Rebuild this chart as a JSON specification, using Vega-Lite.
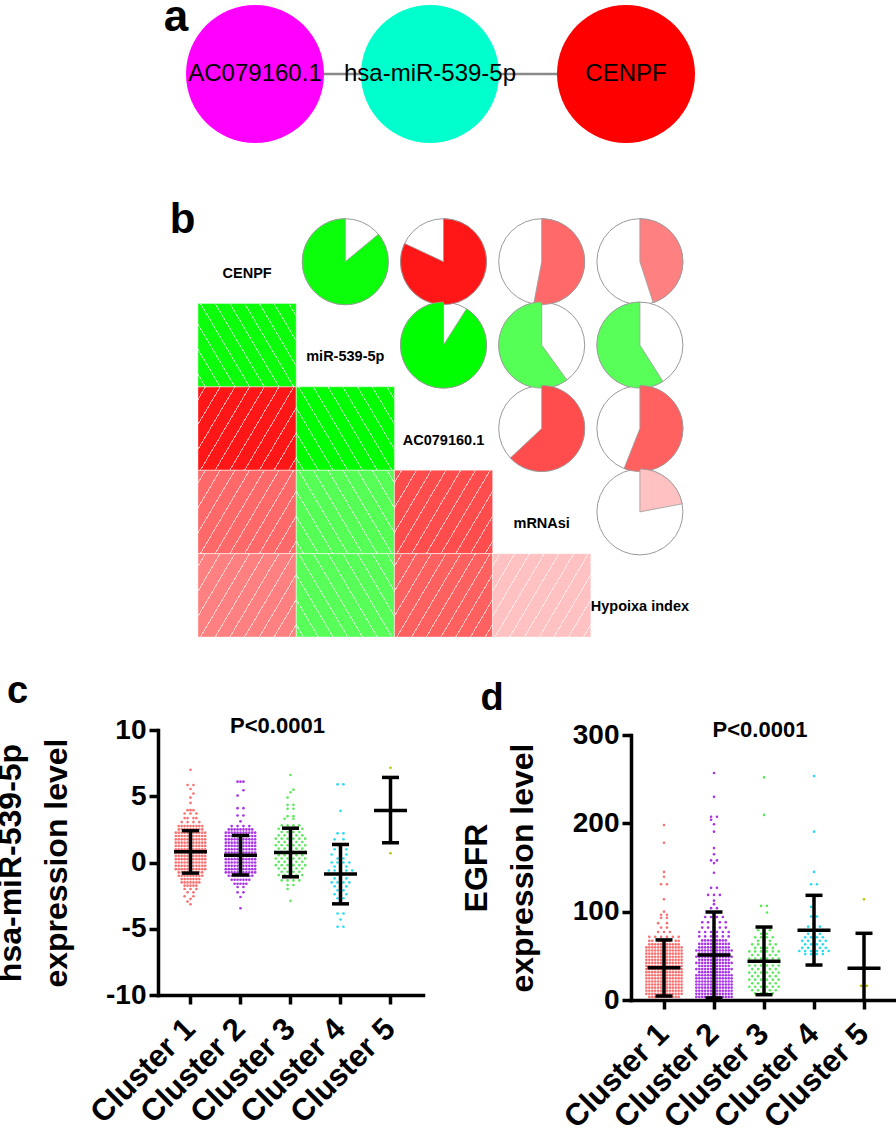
{
"$schema":"https://vega.github.io/schema/vega-lite/v6.json",
"padding":{"left":-6,"top":0,"right":0,"bottom":0},
"background":"white",
"bounds":"flush",
"spacing":0,
"datasets":{
"net":[{"node":"AC079160.1","x":0,"y":0},{"node":"hsa-miR-539-5p","x":1,"y":0},{"node":"CENPF","x":2.12,"y":0}],
"edges":[{"source":"AC079160.1","target":"hsa-miR-539-5p","x1":0,"x2":1,"y":0},{"source":"hsa-miR-539-5p","target":"CENPF","x1":1,"x2":2.12,"y":0}],
"vars":[{"v":"CENPF"},{"v":"miR-539-5p"},{"v":"AC079160.1"},{"v":"mRNAsi"},{"v":"Hypoixa index"}],
"corr":[
{"a":"CENPF","b":"miR-539-5p","r":-0.86},
{"a":"CENPF","b":"AC079160.1","r":0.82},
{"a":"CENPF","b":"mRNAsi","r":0.53},
{"a":"CENPF","b":"Hypoixa index","r":0.45},
{"a":"miR-539-5p","b":"AC079160.1","r":-0.91},
{"a":"miR-539-5p","b":"mRNAsi","r":-0.6},
{"a":"miR-539-5p","b":"Hypoixa index","r":-0.59},
{"a":"AC079160.1","b":"mRNAsi","r":0.63},
{"a":"AC079160.1","b":"Hypoixa index","r":0.56},
{"a":"mRNAsi","b":"Hypoixa index","r":0.22}],
"csum":[{"c":"Cluster 1","m":0.82,"lo":-0.8,"hi":2.4},{"c":"Cluster 2","m":0.55,"lo":-0.94,"hi":2.04},{"c":"Cluster 3","m":0.75,"lo":-1.08,"hi":2.59},{"c":"Cluster 4","m":-0.87,"lo":-3.12,"hi":1.36},{"c":"Cluster 5","m":3.93,"lo":1.49,"hi":6.42}],
"dsum":[{"c":"Cluster 1","m":36.6,"lo":4.5,"hi":68},{"c":"Cluster 2","m":51,"lo":2.3,"hi":99.6},{"c":"Cluster 3","m":44,"lo":6,"hi":82.6},{"c":"Cluster 4","m":79,"lo":39.6,"hi":118.5},{"c":"Cluster 5","m":36,"lo":-3,"hi":75.5}],
"cpts":[
{"c":"Cluster 1","v":7.0,"k":[0]},
{"c":"Cluster 1","v":5.85,"k":[-1,1]},
{"c":"Cluster 1","v":5.55,"k":[0]},
{"c":"Cluster 1","v":5.2,"k":[1]},
{"c":"Cluster 1","v":4.9,"k":[0]},
{"c":"Cluster 1","v":4.5,"k":[0]},
{"c":"Cluster 1","v":3.95,"k":[-1,0,1]},
{"c":"Cluster 1","v":3.7,"k":[-2,0,2]},
{"c":"Cluster 1","v":3.35,"k":[-2,-1,1,2]},
{"c":"Cluster 1","v":3.05,"k":[-3,-1,1,3]},
{"c":"Cluster 1","v":2.75,"k":[-4,-3,-2,-1,0,1,2,3,4]},
{"c":"Cluster 1","v":2.5,"k":[-4,-3,-2,-1,0,1,2,3,4]},
{"c":"Cluster 1","v":2.25,"k":[-5,-4,-3,-2,-1,0,1,2,3,4,5]},
{"c":"Cluster 1","v":2.0,"k":[-5,-4,-3,-2,-1,0,1,2,3,4,5]},
{"c":"Cluster 1","v":1.75,"k":[-5,-4,-3,-2,-1,0,1,2,3,4,5]},
{"c":"Cluster 1","v":1.5,"k":[-5,-4,-3,-2,-1,0,1,2,3,4,5]},
{"c":"Cluster 1","v":1.25,"k":[-5,-4,-3,-2,-1,0,1,2,3,4,5]},
{"c":"Cluster 1","v":1.0,"k":[-5,-4,-3,-2,-1,0,1,2,3,4,5]},
{"c":"Cluster 1","v":0.75,"k":[-5,-4,-3,-2,-1,0,1,2,3,4,5]},
{"c":"Cluster 1","v":0.5,"k":[-5,-4,-3,-2,-1,0,1,2,3,4,5]},
{"c":"Cluster 1","v":0.25,"k":[-5,-4,-3,-2,-1,0,1,2,3,4,5]},
{"c":"Cluster 1","v":0.0,"k":[-5,-4,-3,-2,-1,0,1,2,3,4,5]},
{"c":"Cluster 1","v":-0.25,"k":[-5,-4,-3,-2,-1,0,1,2,3,4,5]},
{"c":"Cluster 1","v":-0.5,"k":[-5,-4,-3,-2,-1,0,1,2,3,4,5]},
{"c":"Cluster 1","v":-0.75,"k":[-4,-3,-2,-1,0,1,2,3,4]},
{"c":"Cluster 1","v":-1.0,"k":[-4,-3,-2,-1,0,1,2,3,4]},
{"c":"Cluster 1","v":-1.25,"k":[-3,-2,-1,0,1,2,3]},
{"c":"Cluster 1","v":-1.5,"k":[-3,-2,-1,0,1,2,3]},
{"c":"Cluster 1","v":-1.75,"k":[-2,-1,0,1,2]},
{"c":"Cluster 1","v":-2.0,"k":[-2,0,2]},
{"c":"Cluster 1","v":-2.25,"k":[-1,1]},
{"c":"Cluster 1","v":-2.55,"k":[-2,1]},
{"c":"Cluster 1","v":-2.75,"k":[0]},
{"c":"Cluster 1","v":-2.95,"k":[-1]},
{"c":"Cluster 1","v":-3.15,"k":[0]},
{"c":"Cluster 2","v":6.1,"k":[-1,0,1]},
{"c":"Cluster 2","v":5.45,"k":[1]},
{"c":"Cluster 2","v":5.05,"k":[-1]},
{"c":"Cluster 2","v":4.1,"k":[-1,1]},
{"c":"Cluster 2","v":3.55,"k":[-1,1]},
{"c":"Cluster 2","v":3.1,"k":[0]},
{"c":"Cluster 2","v":2.75,"k":[-3,-1,1,3]},
{"c":"Cluster 2","v":2.5,"k":[-4,-3,-2,-1,0,1,2,3,4]},
{"c":"Cluster 2","v":2.25,"k":[-5,-4,-3,-2,-1,0,1,2,3,4,5]},
{"c":"Cluster 2","v":2.0,"k":[-5,-4,-3,-2,-1,0,1,2,3,4,5]},
{"c":"Cluster 2","v":1.75,"k":[-5,-4,-3,-2,-1,0,1,2,3,4,5]},
{"c":"Cluster 2","v":1.5,"k":[-5,-4,-3,-2,-1,0,1,2,3,4,5]},
{"c":"Cluster 2","v":1.25,"k":[-5,-4,-3,-2,-1,0,1,2,3,4,5]},
{"c":"Cluster 2","v":1.0,"k":[-5,-4,-3,-2,-1,0,1,2,3,4,5]},
{"c":"Cluster 2","v":0.75,"k":[-5,-4,-3,-2,-1,0,1,2,3,4,5]},
{"c":"Cluster 2","v":0.5,"k":[-5,-4,-3,-2,-1,0,1,2,3,4,5]},
{"c":"Cluster 2","v":0.25,"k":[-5,-4,-3,-2,-1,0,1,2,3,4,5]},
{"c":"Cluster 2","v":0.0,"k":[-5,-4,-3,-2,-1,0,1,2,3,4,5]},
{"c":"Cluster 2","v":-0.25,"k":[-5,-4,-3,-2,-1,0,1,2,3,4,5]},
{"c":"Cluster 2","v":-0.5,"k":[-5,-4,-3,-2,-1,0,1,2,3,4,5]},
{"c":"Cluster 2","v":-0.75,"k":[-5,-4,-3,-2,-1,0,1,2,3,4,5]},
{"c":"Cluster 2","v":-1.0,"k":[-4,-3,-2,-1,0,1,2,3,4]},
{"c":"Cluster 2","v":-1.3,"k":[-3,-2,-1,0,1,2,3]},
{"c":"Cluster 2","v":-1.6,"k":[-2,-1,0,1,2]},
{"c":"Cluster 2","v":-1.85,"k":[-1,1]},
{"c":"Cluster 2","v":-2.25,"k":[-1,1]},
{"c":"Cluster 2","v":-2.6,"k":[0]},
{"c":"Cluster 2","v":-3.45,"k":[0]},
{"c":"Cluster 3","v":6.6,"k":[0]},
{"c":"Cluster 3","v":5.5,"k":[1]},
{"c":"Cluster 3","v":5.3,"k":[0]},
{"c":"Cluster 3","v":4.9,"k":[-1]},
{"c":"Cluster 3","v":4.35,"k":[-1,1]},
{"c":"Cluster 3","v":4.05,"k":[-1,1]},
{"c":"Cluster 3","v":3.5,"k":[-1,1]},
{"c":"Cluster 3","v":3.3,"k":[-2,1]},
{"c":"Cluster 3","v":2.8,"k":[-3,-1,1,3]},
{"c":"Cluster 3","v":2.55,"k":[-4,-2,2,4]},
{"c":"Cluster 3","v":2.3,"k":[-3,-1,1,3]},
{"c":"Cluster 3","v":2.05,"k":[-4,-2,0,2,4]},
{"c":"Cluster 3","v":1.8,"k":[-5,-3,-1,1,3,5]},
{"c":"Cluster 3","v":1.55,"k":[-4,-2,0,2,4]},
{"c":"Cluster 3","v":1.3,"k":[-5,-3,-1,1,3,5]},
{"c":"Cluster 3","v":1.05,"k":[-4,-2,0,2,4]},
{"c":"Cluster 3","v":0.8,"k":[-5,-3,-1,1,3,5]},
{"c":"Cluster 3","v":0.55,"k":[-4,-2,0,2,4]},
{"c":"Cluster 3","v":0.3,"k":[-5,-3,-1,1,3,5]},
{"c":"Cluster 3","v":0.05,"k":[-4,-2,0,2,4]},
{"c":"Cluster 3","v":-0.2,"k":[-5,-3,-1,1,3,5]},
{"c":"Cluster 3","v":-0.45,"k":[-4,-2,0,2,4]},
{"c":"Cluster 3","v":-0.7,"k":[-3,-1,1,3]},
{"c":"Cluster 3","v":-0.95,"k":[-4,-2,2,4]},
{"c":"Cluster 3","v":-1.35,"k":[-3,-1,1,3]},
{"c":"Cluster 3","v":-1.7,"k":[-1,1]},
{"c":"Cluster 3","v":-2.0,"k":[-1]},
{"c":"Cluster 3","v":-2.9,"k":[0]},
{"c":"Cluster 4","v":5.9,"k":[-1,1]},
{"c":"Cluster 4","v":3.9,"k":[0]},
{"c":"Cluster 4","v":2.2,"k":[-1,1]},
{"c":"Cluster 4","v":1.75,"k":[-2,1]},
{"c":"Cluster 4","v":1.3,"k":[-1]},
{"c":"Cluster 4","v":1.0,"k":[-2,2]},
{"c":"Cluster 4","v":0.6,"k":[-3,0,2]},
{"c":"Cluster 4","v":0.3,"k":[-1,1]},
{"c":"Cluster 4","v":0.0,"k":[-3,-1,1,3]},
{"c":"Cluster 4","v":-0.3,"k":[-2,0,2]},
{"c":"Cluster 4","v":-0.6,"k":[-4,-2,2,4]},
{"c":"Cluster 4","v":-0.9,"k":[-3,-1,1,3]},
{"c":"Cluster 4","v":-1.2,"k":[-2,0,2]},
{"c":"Cluster 4","v":-1.5,"k":[-3,-1,1,3]},
{"c":"Cluster 4","v":-1.8,"k":[-2,2]},
{"c":"Cluster 4","v":-2.1,"k":[-1,1]},
{"c":"Cluster 4","v":-2.4,"k":[-2,0,2]},
{"c":"Cluster 4","v":-2.7,"k":[-1,1]},
{"c":"Cluster 4","v":-3.0,"k":[0]},
{"c":"Cluster 4","v":-3.85,"k":[-1,1]},
{"c":"Cluster 4","v":-4.3,"k":[0]},
{"c":"Cluster 4","v":-4.85,"k":[-1,1]},
{"c":"Cluster 5","v":7.15,"k":[0]},
{"c":"Cluster 5","v":6.4,"k":[0]},
{"c":"Cluster 5","v":4.2,"k":[0]},
{"c":"Cluster 5","v":3.35,"k":[0]},
{"c":"Cluster 5","v":2.2,"k":[0]},
{"c":"Cluster 5","v":0.7,"k":[0]}],
"dpts":[
{"c":"Cluster 1","v":198,"k":[0]},
{"c":"Cluster 1","v":178,"k":[0]},
{"c":"Cluster 1","v":145,"k":[0]},
{"c":"Cluster 1","v":139.5,"k":[0]},
{"c":"Cluster 1","v":131,"k":[-1,1]},
{"c":"Cluster 1","v":114,"k":[0]},
{"c":"Cluster 1","v":100,"k":[0]},
{"c":"Cluster 1","v":96.5,"k":[-1,1]},
{"c":"Cluster 1","v":93,"k":[-1,1]},
{"c":"Cluster 1","v":87,"k":[-2,1]},
{"c":"Cluster 1","v":82,"k":[-1,1]},
{"c":"Cluster 1","v":77,"k":[-2,0,2]},
{"c":"Cluster 1","v":71.5,"k":[-5,-3,-1,1,3,5]},
{"c":"Cluster 1","v":67,"k":[-5,-4,-2,-1,1,2,4,5]},
{"c":"Cluster 1","v":63,"k":[-5,-4,-3,-2,-1,0,1,2,3,4,5]},
{"c":"Cluster 1","v":59.5,"k":[-6,-5,-4,-3,-2,-1,0,1,2,3,4,5,6]},
{"c":"Cluster 1","v":56,"k":[-6,-5,-4,-3,-2,-1,0,1,2,3,4,5,6]},
{"c":"Cluster 1","v":52.5,"k":[-6,-5,-4,-3,-2,-1,0,1,2,3,4,5,6]},
{"c":"Cluster 1","v":49,"k":[-6,-5,-4,-3,-2,-1,0,1,2,3,4,5,6]},
{"c":"Cluster 1","v":45.5,"k":[-6,-5,-4,-3,-2,-1,0,1,2,3,4,5,6]},
{"c":"Cluster 1","v":42,"k":[-6,-5,-4,-3,-2,-1,0,1,2,3,4,5,6]},
{"c":"Cluster 1","v":38.5,"k":[-6,-5,-4,-3,-2,-1,0,1,2,3,4,5,6]},
{"c":"Cluster 1","v":35,"k":[-6,-5,-4,-3,-2,-1,0,1,2,3,4,5,6]},
{"c":"Cluster 1","v":31.5,"k":[-6,-5,-4,-3,-2,-1,0,1,2,3,4,5,6]},
{"c":"Cluster 1","v":28,"k":[-6,-5,-4,-3,-2,-1,0,1,2,3,4,5,6]},
{"c":"Cluster 1","v":24.5,"k":[-6,-5,-4,-3,-2,-1,0,1,2,3,4,5,6]},
{"c":"Cluster 1","v":21,"k":[-6,-5,-4,-3,-2,-1,0,1,2,3,4,5,6]},
{"c":"Cluster 1","v":17.5,"k":[-6,-5,-4,-3,-2,-1,0,1,2,3,4,5,6]},
{"c":"Cluster 1","v":14,"k":[-6,-5,-4,-3,-2,-1,0,1,2,3,4,5,6]},
{"c":"Cluster 1","v":10.5,"k":[-6,-5,-4,-3,-2,-1,0,1,2,3,4,5,6]},
{"c":"Cluster 1","v":7,"k":[-6,-5,-4,-3,-2,-1,0,1,2,3,4,5,6]},
{"c":"Cluster 1","v":3.5,"k":[-5,-4,-3,-2,-1,0,1,2,3,4,5]},
{"c":"Cluster 2","v":257,"k":[0]},
{"c":"Cluster 2","v":230,"k":[0]},
{"c":"Cluster 2","v":207.5,"k":[-1,1]},
{"c":"Cluster 2","v":204,"k":[-1]},
{"c":"Cluster 2","v":199,"k":[0]},
{"c":"Cluster 2","v":190.6,"k":[0]},
{"c":"Cluster 2","v":172,"k":[0]},
{"c":"Cluster 2","v":165,"k":[0]},
{"c":"Cluster 2","v":158,"k":[-1,1]},
{"c":"Cluster 2","v":155,"k":[0]},
{"c":"Cluster 2","v":144,"k":[0]},
{"c":"Cluster 2","v":127,"k":[-1,1]},
{"c":"Cluster 2","v":119,"k":[-2,0,2]},
{"c":"Cluster 2","v":112.5,"k":[0]},
{"c":"Cluster 2","v":108.5,"k":[0]},
{"c":"Cluster 2","v":104,"k":[-1,1]},
{"c":"Cluster 2","v":94,"k":[-3,-1,1,3]},
{"c":"Cluster 2","v":88,"k":[-4,-2,2,4]},
{"c":"Cluster 2","v":82,"k":[-4,-2,0,2,4]},
{"c":"Cluster 2","v":77,"k":[-5,-3,-1,1,3,5]},
{"c":"Cluster 2","v":72,"k":[-5,-3,-1,1,3,5]},
{"c":"Cluster 2","v":67.5,"k":[-4,-3,-2,-1,0,1,2,3,4]},
{"c":"Cluster 2","v":63.5,"k":[-5,-4,-3,-2,-1,0,1,2,3,4,5]},
{"c":"Cluster 2","v":59.5,"k":[-5,-4,-3,-2,-1,0,1,2,3,4,5]},
{"c":"Cluster 2","v":56,"k":[-6,-5,-4,-3,-2,-1,0,1,2,3,4,5,6]},
{"c":"Cluster 2","v":52.5,"k":[-5,-4,-3,-2,-1,0,1,2,3,4,5]},
{"c":"Cluster 2","v":49,"k":[-6,-5,-4,-3,-2,-1,0,1,2,3,4,5,6]},
{"c":"Cluster 2","v":45.5,"k":[-5,-4,-3,-2,-1,0,1,2,3,4,5]},
{"c":"Cluster 2","v":42,"k":[-6,-5,-4,-3,-2,-1,0,1,2,3,4,5,6]},
{"c":"Cluster 2","v":38.5,"k":[-5,-4,-3,-2,-1,0,1,2,3,4,5]},
{"c":"Cluster 2","v":35,"k":[-6,-5,-4,-3,-2,-1,0,1,2,3,4,5,6]},
{"c":"Cluster 2","v":31.5,"k":[-5,-4,-3,-2,-1,0,1,2,3,4,5]},
{"c":"Cluster 2","v":28,"k":[-6,-5,-4,-3,-2,-1,0,1,2,3,4,5,6]},
{"c":"Cluster 2","v":24.5,"k":[-6,-5,-4,-3,-2,-1,0,1,2,3,4,5,6]},
{"c":"Cluster 2","v":21,"k":[-6,-5,-4,-3,-2,-1,0,1,2,3,4,5,6]},
{"c":"Cluster 2","v":17.5,"k":[-6,-5,-4,-3,-2,-1,0,1,2,3,4,5,6]},
{"c":"Cluster 2","v":14,"k":[-6,-5,-4,-3,-2,-1,0,1,2,3,4,5,6]},
{"c":"Cluster 2","v":10.5,"k":[-6,-5,-4,-3,-2,-1,0,1,2,3,4,5,6]},
{"c":"Cluster 2","v":7,"k":[-6,-5,-4,-3,-2,-1,0,1,2,3,4,5,6]},
{"c":"Cluster 2","v":3.5,"k":[-6,-5,-4,-3,-2,-1,0,1,2,3,4,5,6]},
{"c":"Cluster 3","v":252,"k":[0]},
{"c":"Cluster 3","v":209.5,"k":[0]},
{"c":"Cluster 3","v":106.5,"k":[-1,1]},
{"c":"Cluster 3","v":99,"k":[1]},
{"c":"Cluster 3","v":79,"k":[-2,2]},
{"c":"Cluster 3","v":75,"k":[-1,1]},
{"c":"Cluster 3","v":71,"k":[-3,-1,1,3]},
{"c":"Cluster 3","v":67,"k":[-2,0,2]},
{"c":"Cluster 3","v":63,"k":[-4,-2,2,4]},
{"c":"Cluster 3","v":59,"k":[-3,-1,1,3]},
{"c":"Cluster 3","v":55,"k":[-5,-3,-1,1,3,5]},
{"c":"Cluster 3","v":51,"k":[-4,-2,0,2,4]},
{"c":"Cluster 3","v":47,"k":[-5,-3,-1,1,3,5]},
{"c":"Cluster 3","v":43,"k":[-4,-2,0,2,4]},
{"c":"Cluster 3","v":39,"k":[-5,-3,-1,1,3,5]},
{"c":"Cluster 3","v":35,"k":[-4,-2,0,2,4]},
{"c":"Cluster 3","v":31,"k":[-5,-3,-1,1,3,5]},
{"c":"Cluster 3","v":27,"k":[-4,-2,0,2,4]},
{"c":"Cluster 3","v":23,"k":[-5,-3,-1,1,3,5]},
{"c":"Cluster 3","v":19,"k":[-4,-2,0,2,4]},
{"c":"Cluster 3","v":15,"k":[-5,-3,-1,1,3,5]},
{"c":"Cluster 3","v":11,"k":[-4,-2,0,2,4]},
{"c":"Cluster 3","v":7.5,"k":[-3,-1,1,3]},
{"c":"Cluster 4","v":253.5,"k":[0]},
{"c":"Cluster 4","v":190.6,"k":[0]},
{"c":"Cluster 4","v":145,"k":[0]},
{"c":"Cluster 4","v":131,"k":[-1,1]},
{"c":"Cluster 4","v":113,"k":[0]},
{"c":"Cluster 4","v":105.5,"k":[-1]},
{"c":"Cluster 4","v":94.5,"k":[-1,1]},
{"c":"Cluster 4","v":87,"k":[0]},
{"c":"Cluster 4","v":83,"k":[-2,2]},
{"c":"Cluster 4","v":79,"k":[-3,-1,1,3]},
{"c":"Cluster 4","v":75,"k":[-2,2]},
{"c":"Cluster 4","v":71,"k":[-3,-1,1,3]},
{"c":"Cluster 4","v":67,"k":[-4,-2,2,4]},
{"c":"Cluster 4","v":63,"k":[-3,-1,1,3]},
{"c":"Cluster 4","v":59,"k":[-4,-2,0,2,4]},
{"c":"Cluster 4","v":55.5,"k":[-5,-3,-1,1,3,5]},
{"c":"Cluster 4","v":52,"k":[-3,-1,1,3]},
{"c":"Cluster 5","v":114,"k":[0]},
{"c":"Cluster 5","v":33,"k":[0]},
{"c":"Cluster 5","v":26.4,"k":[0]},
{"c":"Cluster 5","v":16,"k":[-1,1]}]
},
"vconcat":[
{
"width":739,"height":148,
"layer":[
{"data":{"name":"edges"},"mark":{"type":"rule","color":"#8a8a8a","strokeWidth":2.5},
 "encoding":{"x":{"field":"x1","type":"quantitative","scale":{"domain":[-0.5543,3.6686],"nice":false,"zero":false},"axis":null},"x2":{"field":"x2"},
 "y":{"field":"y","type":"quantitative","scale":{"domain":[-1,1],"nice":false},"axis":null}}},
{"data":{"name":"net"},"mark":{"type":"point","shape":"circle","filled":true,"opacity":1,"size":19044},
 "encoding":{"x":{"field":"x","type":"quantitative"},"y":{"field":"y","type":"quantitative"},
 "color":{"field":"node","type":"nominal","scale":{"domain":["AC079160.1","hsa-miR-539-5p","CENPF"],"range":["#FF00FF","#00FFCC","#FF0000"]},"legend":null}}},
{"data":{"name":"net"},"mark":{"type":"text","fontSize":24,"color":"black","baseline":"middle","align":"center"},
 "encoding":{"x":{"field":"x","type":"quantitative"},"y":{"field":"y","type":"quantitative"},"text":{"field":"node"}}},
{"data":{"values":[{"label":"a"}]},"mark":{"type":"text","fontSize":44,"fontWeight":"bold","color":"black","clip":true,"baseline":"alphabetic","align":"center","dx":-79,"dy":-43},
 "encoding":{"x":{"datum":0,"type":"quantitative"},"y":{"datum":0,"type":"quantitative"},"text":{"field":"label"}}}
]
},
{
"width":739,"height":582,
"layer":[
{"data":{"name":"corr"},"mark":{"type":"point","shape":"M-1,-0.848L1,-0.848L1,0.848L-1,0.848Z","size":9643,"filled":true,"opacity":1,"strokeWidth":0},
 "encoding":{"x":{"field":"a","type":"nominal","scale":{"type":"band","domain":["CENPF","miR-539-5p","AC079160.1","mRNAsi","Hypoixa index"],"range":[40,531],"paddingInner":0,"paddingOuter":0},"axis":null},
 "y":{"field":"b","type":"nominal","scale":{"type":"band","domain":["CENPF","miR-539-5p","AC079160.1","mRNAsi","Hypoixa index"],"range":[72,489],"paddingInner":0,"paddingOuter":0},"axis":null},
 "color":{"field":"r","type":"quantitative","scale":{"domain":[-0.9,0,0.9],"range":["#00FF00","#FFFFFF","#FF0000"],"clamp":true,"interpolate":"rgb"},"legend":null}}},
{"data":{"name":"corr"},"transform":[{"filter":"datum.r > 0"}],
 "mark":{"type":"point","shape":"M-1,-0.848L1,-0.848L1,0.848L-1,0.848Z","size":9643,"filled":true,"opacity":1,"stroke":"white","strokeWidth":0.7,"strokeOpacity":0.5,"fill":{"gradient":"linear","x1":0,"y1":0,"x2":1.2,"y2":0.6,"stops":[
 {"offset":0,"color":"rgba(255,255,255,0)"},
 {"offset":0.046,"color":"rgba(255,255,255,0)"},{"offset":0.046,"color":"rgba(255,255,255,0.6)"},{"offset":0.054,"color":"rgba(255,255,255,0.6)"},{"offset":0.054,"color":"rgba(255,255,255,0)"},
 {"offset":0.146,"color":"rgba(255,255,255,0)"},{"offset":0.146,"color":"rgba(255,255,255,0.6)"},{"offset":0.154,"color":"rgba(255,255,255,0.6)"},{"offset":0.154,"color":"rgba(255,255,255,0)"},
 {"offset":0.246,"color":"rgba(255,255,255,0)"},{"offset":0.246,"color":"rgba(255,255,255,0.6)"},{"offset":0.254,"color":"rgba(255,255,255,0.6)"},{"offset":0.254,"color":"rgba(255,255,255,0)"},
 {"offset":0.346,"color":"rgba(255,255,255,0)"},{"offset":0.346,"color":"rgba(255,255,255,0.6)"},{"offset":0.354,"color":"rgba(255,255,255,0.6)"},{"offset":0.354,"color":"rgba(255,255,255,0)"},
 {"offset":0.446,"color":"rgba(255,255,255,0)"},{"offset":0.446,"color":"rgba(255,255,255,0.6)"},{"offset":0.454,"color":"rgba(255,255,255,0.6)"},{"offset":0.454,"color":"rgba(255,255,255,0)"},
 {"offset":0.546,"color":"rgba(255,255,255,0)"},{"offset":0.546,"color":"rgba(255,255,255,0.6)"},{"offset":0.554,"color":"rgba(255,255,255,0.6)"},{"offset":0.554,"color":"rgba(255,255,255,0)"},
 {"offset":0.646,"color":"rgba(255,255,255,0)"},{"offset":0.646,"color":"rgba(255,255,255,0.6)"},{"offset":0.654,"color":"rgba(255,255,255,0.6)"},{"offset":0.654,"color":"rgba(255,255,255,0)"},
 {"offset":0.746,"color":"rgba(255,255,255,0)"},{"offset":0.746,"color":"rgba(255,255,255,0.6)"},{"offset":0.754,"color":"rgba(255,255,255,0.6)"},{"offset":0.754,"color":"rgba(255,255,255,0)"},
 {"offset":0.846,"color":"rgba(255,255,255,0)"},{"offset":0.846,"color":"rgba(255,255,255,0.6)"},{"offset":0.854,"color":"rgba(255,255,255,0.6)"},{"offset":0.854,"color":"rgba(255,255,255,0)"},
 {"offset":0.946,"color":"rgba(255,255,255,0)"},{"offset":0.946,"color":"rgba(255,255,255,0.6)"},{"offset":0.954,"color":"rgba(255,255,255,0.6)"},{"offset":0.954,"color":"rgba(255,255,255,0)"},
 {"offset":1,"color":"rgba(255,255,255,0)"}]}},
 "encoding":{"x":{"field":"a","type":"nominal"},"y":{"field":"b","type":"nominal"}}},
{"data":{"name":"corr"},"transform":[{"filter":"datum.r < 0"}],
 "mark":{"type":"point","shape":"M-1,-0.848L1,-0.848L1,0.848L-1,0.848Z","size":9643,"filled":true,"opacity":1,"stroke":"white","strokeWidth":0.7,"strokeOpacity":0.5,"fill":{"gradient":"linear","x1":0,"y1":1,"x2":1.2,"y2":0.4,"stops":[
 {"offset":0,"color":"rgba(255,255,255,0)"},
 {"offset":0.046,"color":"rgba(255,255,255,0)"},{"offset":0.046,"color":"rgba(255,255,255,0.6)"},{"offset":0.054,"color":"rgba(255,255,255,0.6)"},{"offset":0.054,"color":"rgba(255,255,255,0)"},
 {"offset":0.146,"color":"rgba(255,255,255,0)"},{"offset":0.146,"color":"rgba(255,255,255,0.6)"},{"offset":0.154,"color":"rgba(255,255,255,0.6)"},{"offset":0.154,"color":"rgba(255,255,255,0)"},
 {"offset":0.246,"color":"rgba(255,255,255,0)"},{"offset":0.246,"color":"rgba(255,255,255,0.6)"},{"offset":0.254,"color":"rgba(255,255,255,0.6)"},{"offset":0.254,"color":"rgba(255,255,255,0)"},
 {"offset":0.346,"color":"rgba(255,255,255,0)"},{"offset":0.346,"color":"rgba(255,255,255,0.6)"},{"offset":0.354,"color":"rgba(255,255,255,0.6)"},{"offset":0.354,"color":"rgba(255,255,255,0)"},
 {"offset":0.446,"color":"rgba(255,255,255,0)"},{"offset":0.446,"color":"rgba(255,255,255,0.6)"},{"offset":0.454,"color":"rgba(255,255,255,0.6)"},{"offset":0.454,"color":"rgba(255,255,255,0)"},
 {"offset":0.546,"color":"rgba(255,255,255,0)"},{"offset":0.546,"color":"rgba(255,255,255,0.6)"},{"offset":0.554,"color":"rgba(255,255,255,0.6)"},{"offset":0.554,"color":"rgba(255,255,255,0)"},
 {"offset":0.646,"color":"rgba(255,255,255,0)"},{"offset":0.646,"color":"rgba(255,255,255,0.6)"},{"offset":0.654,"color":"rgba(255,255,255,0.6)"},{"offset":0.654,"color":"rgba(255,255,255,0)"},
 {"offset":0.746,"color":"rgba(255,255,255,0)"},{"offset":0.746,"color":"rgba(255,255,255,0.6)"},{"offset":0.754,"color":"rgba(255,255,255,0.6)"},{"offset":0.754,"color":"rgba(255,255,255,0)"},
 {"offset":0.846,"color":"rgba(255,255,255,0)"},{"offset":0.846,"color":"rgba(255,255,255,0.6)"},{"offset":0.854,"color":"rgba(255,255,255,0.6)"},{"offset":0.854,"color":"rgba(255,255,255,0)"},
 {"offset":0.946,"color":"rgba(255,255,255,0)"},{"offset":0.946,"color":"rgba(255,255,255,0.6)"},{"offset":0.954,"color":"rgba(255,255,255,0.6)"},{"offset":0.954,"color":"rgba(255,255,255,0)"},
 {"offset":1,"color":"rgba(255,255,255,0)"}]}},
 "encoding":{"x":{"field":"a","type":"nominal"},"y":{"field":"b","type":"nominal"}}},
{"data":{"name":"corr"},"mark":{"type":"point","shape":"circle","filled":true,"fill":"white","stroke":"#9a9a9a","strokeWidth":1,"size":7396,"opacity":1},
 "encoding":{"x":{"field":"b","type":"nominal"},"y":{"field":"a","type":"nominal"}}},
{"data":{"name":"corr"},"transform":[{"calculate":"datum.r < 0 ? 1 + datum.r : 0","as":"t0"},{"calculate":"datum.r < 0 ? 1 : datum.r","as":"t1"}],
 "mark":{"type":"arc","outerRadius":43,"stroke":"#9a9a9a","strokeWidth":0.8},
 "encoding":{"x":{"field":"b","type":"nominal"},"y":{"field":"a","type":"nominal"},
 "theta":{"field":"t0","type":"quantitative","stack":null,"scale":{"domain":[0,1],"range":[0,6.2831853]}},"theta2":{"field":"t1"},
 "color":{"field":"r","type":"quantitative","legend":null}}},
{"data":{"name":"vars"},"mark":{"type":"text","fontSize":14.5,"fontWeight":"bold","color":"black","dy":12,"baseline":"middle","align":"center"},
 "encoding":{"x":{"field":"v","type":"nominal"},"y":{"field":"v","type":"nominal"},"text":{"field":"v"}}},
{"data":{"values":[{"label":"b"}]},"mark":{"type":"text","fontSize":42,"fontWeight":"bold","color":"black","baseline":"alphabetic","align":"center","dx":-64.6,"dy":-28.7},
 "encoding":{"x":{"datum":"CENPF","type":"nominal"},"y":{"datum":"CENPF","type":"nominal"},"text":{"field":"label"}}}
]
},
{
"hconcat":[
{
"width":265,"height":265,
"layer":[
{"data":{"name":"cpts"},"transform":[{"flatten":["k"]}],"mark":{"type":"circle","size":7,"opacity":1},
 "encoding":{"x":{"field":"c","type":"nominal","scale":{"domain":["Cluster 1","Cluster 2","Cluster 3","Cluster 4","Cluster 5"],"paddingInner":0,"paddingOuter":0.15},
  "axis":{"title":null,"labelAngle":-45,"labelAlign":"right","labelBaseline":"middle","labelPadding":20,"labelFontSize":31}},
 "xOffset":{"field":"k","type":"ordinal","scale":{"domain":[-8,-7,-6,-5,-4,-3,-2,-1,0,1,2,3,4,5,6,7,8]}},
 "y":{"field":"v","type":"quantitative","scale":{"domain":[-10,10],"nice":false},"axis":{"values":[-10,-5,0,5,10],"labelExpr":"'' + datum.value","title":["hsa-miR-539-5p","expression level"],"titlePadding":32,"titleLineHeight":46,"labelPadding":3}},
 "color":{"field":"c","type":"nominal","scale":{"domain":["Cluster 1","Cluster 2","Cluster 3","Cluster 4","Cluster 5"],"range":["#F87272","#A835E6","#5FE85F","#28DCEF","#C0C000"]},"legend":null}}},
{"data":{"name":"csum"},"mark":{"type":"rule","strokeWidth":3.5,"color":"black"},
 "encoding":{"x":{"field":"c","type":"nominal"},"y":{"field":"lo","type":"quantitative"},"y2":{"field":"hi"}}},
{"data":{"name":"csum"},"mark":{"type":"tick","size":33,"thickness":3.5,"color":"black","opacity":1},
 "encoding":{"x":{"field":"c","type":"nominal"},"y":{"field":"m","type":"quantitative"}}},
{"data":{"name":"csum"},"mark":{"type":"tick","size":17,"thickness":3.5,"color":"black","opacity":1},
 "encoding":{"x":{"field":"c","type":"nominal"},"y":{"field":"lo","type":"quantitative"}}},
{"data":{"name":"csum"},"mark":{"type":"tick","size":17,"thickness":3.5,"color":"black","opacity":1},
 "encoding":{"x":{"field":"c","type":"nominal"},"y":{"field":"hi","type":"quantitative"}}},
{"data":{"values":[{"t":"P<0.0001"}]},"mark":{"type":"text","fontSize":22,"fontWeight":"bold","color":"black","baseline":"alphabetic","align":"center","dx":-13,"dy":3},
 "encoding":{"x":{"datum":"Cluster 3","type":"nominal"},"y":{"datum":10,"type":"quantitative"},"text":{"field":"t"}}},
{"data":{"values":[{"t":"c"}]},"mark":{"type":"text","fontSize":38,"fontWeight":"bold","color":"black","baseline":"alphabetic","align":"center","dx":-173,"dy":-27},
 "encoding":{"x":{"datum":"Cluster 1","type":"nominal"},"y":{"datum":10,"type":"quantitative"},"text":{"field":"t"}}}
]
},
{
"width":266,"height":270,
"layer":[
{"data":{"name":"dpts"},"transform":[{"flatten":["k"]}],"mark":{"type":"circle","size":7,"opacity":1},
 "encoding":{"x":{"field":"c","type":"nominal","scale":{"domain":["Cluster 1","Cluster 2","Cluster 3","Cluster 4","Cluster 5"],"paddingInner":0,"paddingOuter":0.16},
  "axis":{"title":null,"labelAngle":-45,"labelAlign":"right","labelBaseline":"middle","labelPadding":20,"labelFontSize":31}},
 "xOffset":{"field":"k","type":"ordinal","scale":{"domain":[-8,-7,-6,-5,-4,-3,-2,-1,0,1,2,3,4,5,6,7,8]}},
 "y":{"field":"v","type":"quantitative","scale":{"domain":[0,300],"range":[270,5],"nice":false},"axis":{"values":[0,100,200,300],"title":["EGFR","expression level"],"titlePadding":33,"titleLineHeight":46,"labelPadding":3}},
 "color":{"field":"c","type":"nominal","scale":{"domain":["Cluster 1","Cluster 2","Cluster 3","Cluster 4","Cluster 5"],"range":["#F87272","#A835E6","#5FE85F","#28DCEF","#C0C000"]},"legend":null}}},
{"data":{"name":"dsum"},"mark":{"type":"rule","strokeWidth":3.5,"color":"black","clip":true},
 "encoding":{"x":{"field":"c","type":"nominal"},"y":{"field":"lo","type":"quantitative"},"y2":{"field":"hi"}}},
{"data":{"name":"dsum"},"mark":{"type":"tick","size":33,"thickness":3.5,"color":"black","opacity":1},
 "encoding":{"x":{"field":"c","type":"nominal"},"y":{"field":"m","type":"quantitative"}}},
{"data":{"name":"dsum"},"mark":{"type":"tick","size":17,"thickness":3.5,"color":"black","opacity":1,"clip":true},
 "encoding":{"x":{"field":"c","type":"nominal"},"y":{"field":"lo","type":"quantitative"}}},
{"data":{"name":"dsum"},"mark":{"type":"tick","size":17,"thickness":3.5,"color":"black","opacity":1},
 "encoding":{"x":{"field":"c","type":"nominal"},"y":{"field":"hi","type":"quantitative"}}},
{"data":{"values":[{"t":"P<0.0001"}]},"mark":{"type":"text","fontSize":22,"fontWeight":"bold","color":"black","baseline":"alphabetic","align":"center","dx":-4,"dy":2},
 "encoding":{"x":{"datum":"Cluster 3","type":"nominal"},"y":{"datum":300,"type":"quantitative"},"text":{"field":"t"}}},
{"data":{"values":[{"t":"d"}]},"mark":{"type":"text","fontSize":38,"fontWeight":"bold","color":"black","baseline":"alphabetic","align":"center","dx":-172,"dy":-25},
 "encoding":{"x":{"datum":"Cluster 1","type":"nominal"},"y":{"datum":300,"type":"quantitative"},"text":{"field":"t"}}}
]
}
],
"spacing":208,
"bounds":"flush"
}
],
"config":{
"font":"Liberation Sans",
"view":{"stroke":null},
"axis":{"domainColor":"black","domainWidth":3.5,"domainCap":"square","tickColor":"black","tickWidth":3.5,"tickSize":9,"labelColor":"black","labelFontSize":28,"labelFontWeight":"bold","titleColor":"black","titleFontSize":32,"titleFontWeight":"bold","grid":false}
}
}
